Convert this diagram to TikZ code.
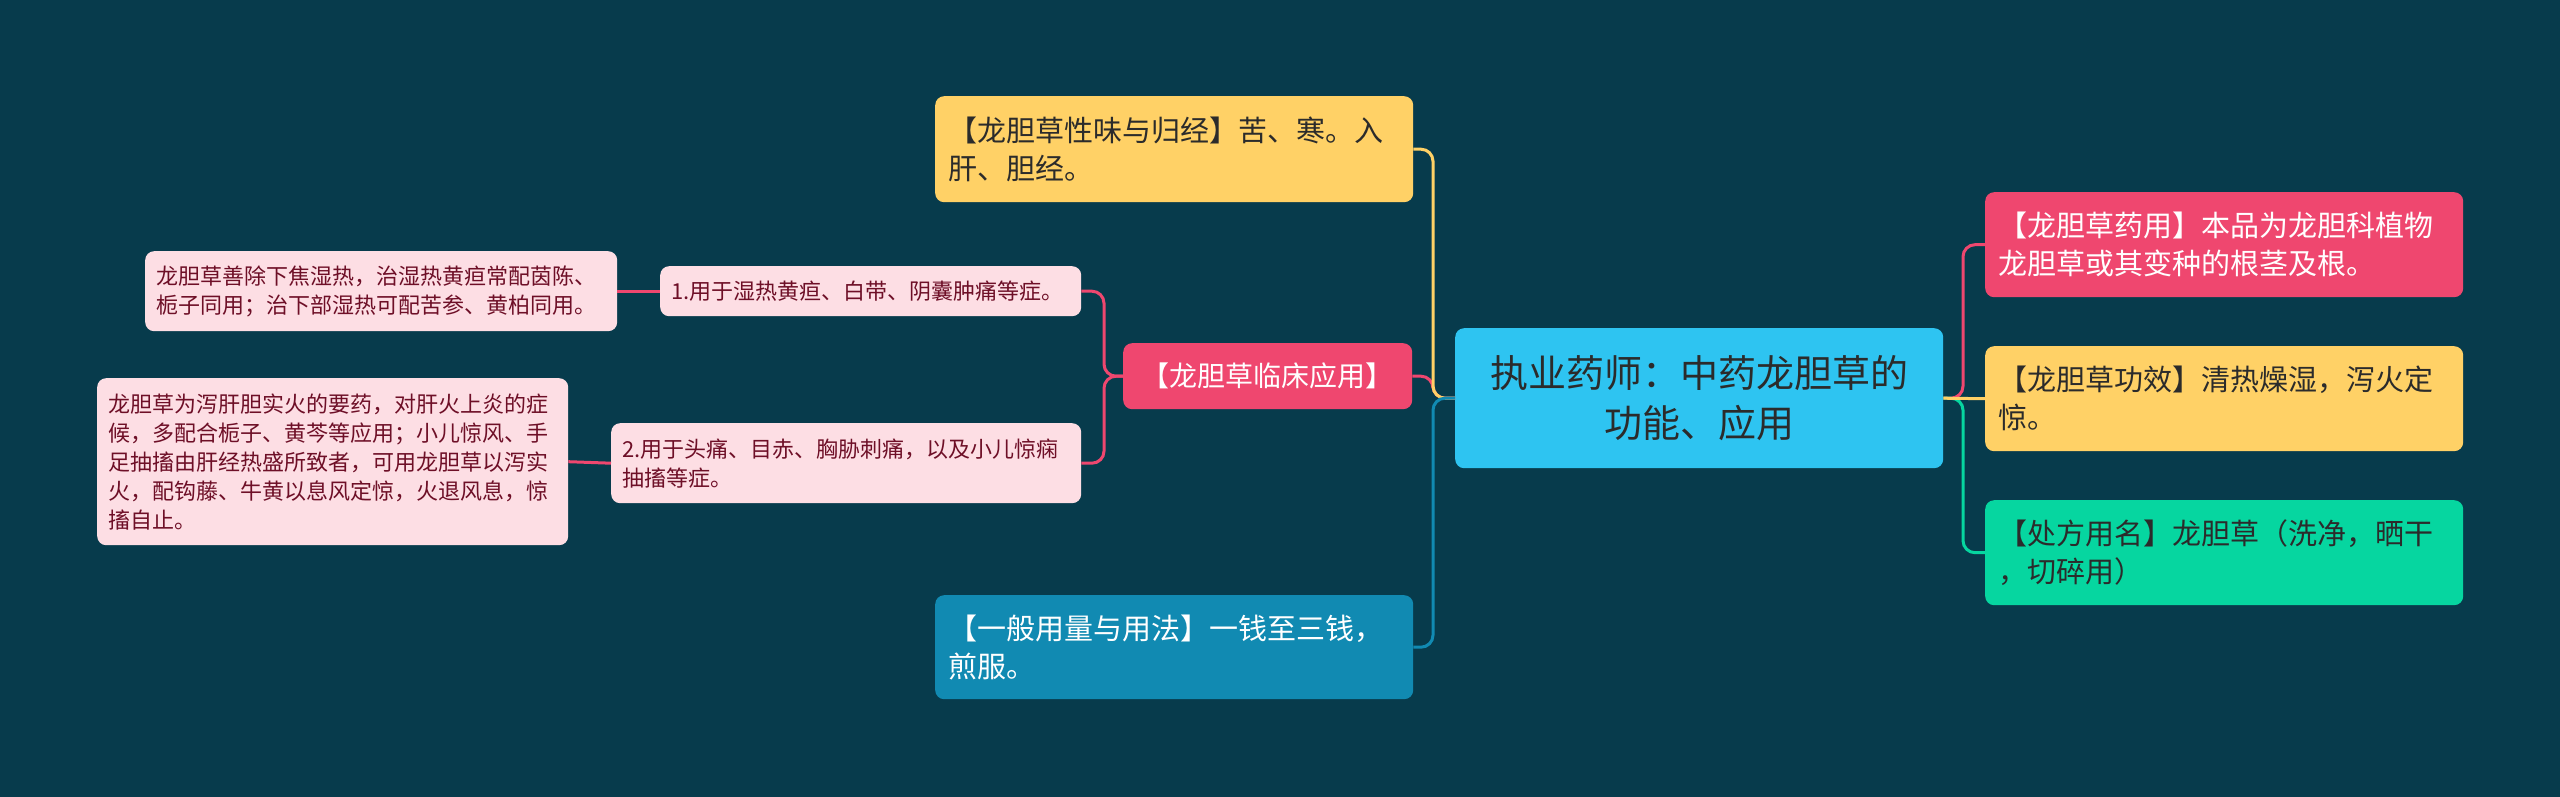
\documentclass[tikz,border=0pt]{standalone}
\usepackage{fontspec}
\newfontfamily\cjk{Noto Sans CJK SC}
\definecolor{bg}{HTML}{073B4C}
\definecolor{cRoot}{HTML}{2EC4F1}
\definecolor{cYel}{HTML}{FFD166}
\definecolor{cRed}{HTML}{EF476F}
\definecolor{cGreen}{HTML}{06D6A0}
\definecolor{cBlue}{HTML}{118AB2}
\definecolor{cLight}{HTML}{FDDEE4}
\definecolor{cDark}{HTML}{2B2B2B}
\definecolor{cMaroon}{HTML}{6E0F27}
\begin{document}
\begin{tikzpicture}[x=1pt,y=-1pt,
  box/.style={rectangle,rounded corners=9pt,anchor=north west,inner xsep=13pt,inner ysep=0pt,align=left},
  big/.style={font=\cjk\fontsize{29pt}{38pt}\selectfont},
  small/.style={font=\cjk\fontsize{22pt}{29pt}\selectfont,inner xsep=11pt},
  link/.style={line width=3pt,rounded corners=12pt}]
\fill[bg] (0,0) rectangle (2560,797);
\useasboundingbox (0,0) rectangle (2560,797);
% nodes
\node[box,fill=cRoot,text=cDark,align=center,minimum width=488pt,minimum height=140pt,text width=450pt,
  font=\cjk\fontsize{38pt}{50pt}\selectfont] (root) at (1455,328) {执业药师：中药龙胆草的\\功能、应用};
\node[box,big,fill=cYel,text=cDark,minimum width=478pt,minimum height=106pt,text width=452pt] (ytop) at (935,96)
  {【龙胆草性味与归经】苦、寒。入\\肝、胆经。};
\node[box,fill=cRed,text=white,align=center,minimum width=289pt,minimum height=66pt,text width=263pt,
  font=\cjk\fontsize{28pt}{34pt}\selectfont] (clin) at (1123,343) {【龙胆草临床应用】};
\node[box,big,fill=cBlue,text=white,minimum width=478pt,minimum height=104pt,text width=452pt] (blue) at (935,595)
  {【一般用量与用法】一钱至三钱，\\煎服。};
\node[box,small,fill=cLight,text=cMaroon,minimum width=421pt,minimum height=50pt,text width=399pt] (item1) at (660,266)
  {1.用于湿热黄疸、白带、阴囊肿痛等症。};
\node[box,small,fill=cLight,text=cMaroon,minimum width=470pt,minimum height=80pt,text width=448pt] (item2) at (611,423)
  {2.用于头痛、目赤、胸胁刺痛，以及小儿惊痫\\抽搐等症。};
\node[box,small,fill=cLight,text=cMaroon,minimum width=472pt,minimum height=80pt,text width=450pt] (det1) at (145,251)
  {龙胆草善除下焦湿热，治湿热黄疸常配茵陈、\\栀子同用；治下部湿热可配苦参、黄柏同用。};
\node[box,small,fill=cLight,text=cMaroon,minimum width=471pt,minimum height=167pt,text width=449pt] (det2) at (97,378)
  {龙胆草为泻肝胆实火的要药，对肝火上炎的症\\候，多配合栀子、黄芩等应用；小儿惊风、手\\足抽搐由肝经热盛所致者，可用龙胆草以泻实\\火，配钩藤、牛黄以息风定惊，火退风息，惊\\搐自止。};
\node[box,big,fill=cRed,text=white,minimum width=478pt,minimum height=105pt,text width=452pt] (rpink) at (1985,192)
  {【龙胆草药用】本品为龙胆科植物\\龙胆草或其变种的根茎及根。};
\node[box,big,fill=cYel,text=cDark,minimum width=478pt,minimum height=105pt,text width=452pt] (ryel) at (1985,346)
  {【龙胆草功效】清热燥湿，泻火定\\惊。};
\node[box,big,fill=cGreen,text=cDark,minimum width=478pt,minimum height=105pt,text width=452pt] (rgreen) at (1985,500)
  {【处方用名】龙胆草（洗净，晒干\\，切碎用）};
% trunk coordinates
\coordinate (tl) at (1433,0);
\coordinate (tc) at (1104,0);
\coordinate (tr) at (1963,0);
% connectors left of root
\draw[link,cRed] (root.west) -- (root.west -| tl) |- (clin.east);
\draw[link,cYel] (root.west) -- (root.west -| tl) |- (ytop.east);
\draw[link,cBlue] (root.west) -- (root.west -| tl) |- (blue.east);
% clinical children
\draw[link,cRed] (clin.west) -- (clin.west -| tc) |- (item1.east);
\draw[link,cRed] (clin.west) -- (clin.west -| tc) |- (item2.east);
\draw[link,cRed] (item1.west) -- (det1.east);
\draw[link,cRed] (item2.west) -- (det2.east);
% right side
\draw[link,cRed] (root.east) -- (root.east -| tr) |- (rpink.west);
\draw[link,cGreen] (root.east) -- (root.east -| tr) |- (rgreen.west);
\draw[link,cYel] (root.east) -- (ryel.west);
\end{tikzpicture}
\end{document}
